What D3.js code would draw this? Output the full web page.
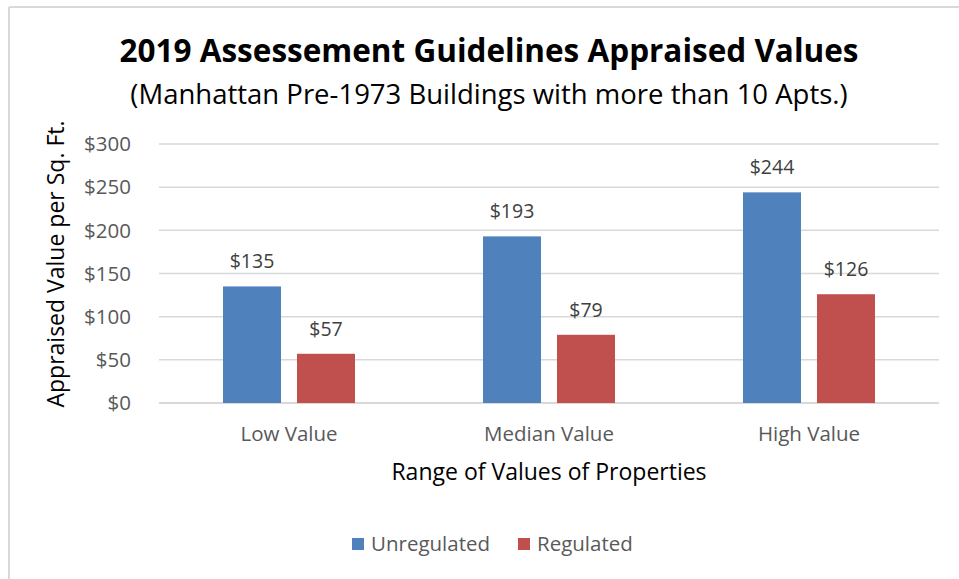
<!DOCTYPE html>
<html>
<head>
<meta charset="utf-8">
<script src="https://cdn.jsdelivr.net/npm/d3@7"></script>
<style>
  body { margin: 0; background: #fff; }
  svg text { font-family: "Open Sans", "Noto Sans", sans-serif; }
</style>
</head>
<body>
<script>
const categories = ["Low Value", "Median Value", "High Value"];
const seriesNames = ["Unregulated", "Regulated"];
const unregulated = [135, 193, 244];
const regulated = [57, 79, 126];
const yTicks = [0, 50, 100, 150, 200, 250, 300];

const width = 959;
const height = 579;
const colors = { Unregulated: "#4F81BD", Regulated: "#C0504D" };

const svg = d3.select("body")
    .append("svg")
    .attr("width", width)
    .attr("height", height);

// frame (only top and left edges show in the crop)
svg.append("line").attr("x1", 9).attr("x2", width).attr("y1", 7).attr("y2", 7)
    .attr("stroke", "#d9d9d9").attr("stroke-width", 2);
svg.append("line").attr("x1", 9).attr("x2", 9).attr("y1", 7).attr("y2", height)
    .attr("stroke", "#d9d9d9").attr("stroke-width", 2);

const plot = { left: 159, right: 939, top: 144, bottom: 403 };

const x = d3.scaleBand()
    .domain(categories)
    .range([plot.left, plot.right]);

const x1 = d3.scaleBand()
    .domain(seriesNames)
    .range([0, x.bandwidth()])
    .paddingInner(0.216)
    .paddingOuter(0.865);

const y = d3.scaleLinear()
    .domain([0, 300])
    .range([plot.bottom, plot.top]);

// gridlines
svg.append("g")
    .selectAll("line")
    .data(yTicks)
    .enter()
    .append("line")
    .attr("x1", plot.left)
    .attr("x2", plot.right)
    .attr("y1", d => y(d))
    .attr("y2", d => y(d))
    .attr("stroke", "#d9d9d9")
    .attr("stroke-width", d => d === 0 ? 2 : 1.5);

// y tick labels
svg.append("g")
    .selectAll("text")
    .data(yTicks)
    .enter()
    .append("text")
    .attr("x", 131)
    .attr("y", d => y(d))
    .attr("dy", "0.35em")
    .attr("text-anchor", "end")
    .attr("fill", "#595959")
    .attr("font-size", 20.5)
    .text(d => "$" + d);

const rows = categories.map((c, i) => ({
    category: c,
    values: [
        { name: "Unregulated", value: unregulated[i] },
        { name: "Regulated", value: regulated[i] }
    ]
}));

const groups = svg.append("g")
    .selectAll("g")
    .data(rows)
    .enter()
    .append("g")
    .attr("transform", d => `translate(${x(d.category)},0)`);

groups.selectAll("rect")
    .data(d => d.values)
    .enter()
    .append("rect")
    .attr("x", d => x1(d.name))
    .attr("width", x1.bandwidth())
    .attr("y", d => y(d.value))
    .attr("height", d => y(0) - y(d.value))
    .attr("fill", d => colors[d.name]);

groups.selectAll("text")
    .data(d => d.values)
    .enter()
    .append("text")
    .attr("x", d => x1(d.name) + x1.bandwidth() / 2)
    .attr("y", d => y(d.value) - 18)
    .attr("text-anchor", "middle")
    .attr("fill", "#404040")
    .attr("font-size", 19.5)
    .text(d => "$" + d.value);

// category labels
svg.append("g")
    .selectAll("text")
    .data(categories)
    .enter()
    .append("text")
    .attr("x", d => x(d) + x.bandwidth() / 2)
    .attr("y", 441)
    .attr("text-anchor", "middle")
    .attr("fill", "#595959")
    .attr("font-size", 20.5)
    .text(d => d);

// titles
svg.append("text")
    .attr("x", 489)
    .attr("y", 62)
    .attr("text-anchor", "middle")
    .attr("font-size", 31.5)
    .attr("font-weight", "bold")
    .attr("fill", "#000")
    .text("2019 Assessement Guidelines Appraised Values");

svg.append("text")
    .attr("x", 489)
    .attr("y", 104)
    .attr("text-anchor", "middle")
    .attr("font-size", 27.5)
    .attr("fill", "#000")
    .text("(Manhattan Pre-1973 Buildings with more than 10 Apts.)");

svg.append("text")
    .attr("transform", "translate(64,264) rotate(-90)")
    .attr("text-anchor", "middle")
    .attr("font-size", 23)
    .attr("fill", "#000")
    .text("Appraised Value per Sq. Ft.");

svg.append("text")
    .attr("x", 549)
    .attr("y", 480)
    .attr("text-anchor", "middle")
    .attr("font-size", 23)
    .attr("fill", "#000")
    .text("Range of Values of Properties");

// legend
const legend = svg.append("g")
    .selectAll("g")
    .data(seriesNames)
    .enter()
    .append("g")
    .attr("transform", (d, i) => `translate(${[352, 518][i]},538)`);

legend.append("rect")
    .attr("width", 12)
    .attr("height", 12)
    .attr("fill", d => colors[d]);

legend.append("text")
    .attr("x", 19)
    .attr("y", 6)
    .attr("dy", "0.35em")
    .attr("fill", "#595959")
    .attr("font-size", 20.5)
    .text(d => d);
</script>
</body>
</html>
